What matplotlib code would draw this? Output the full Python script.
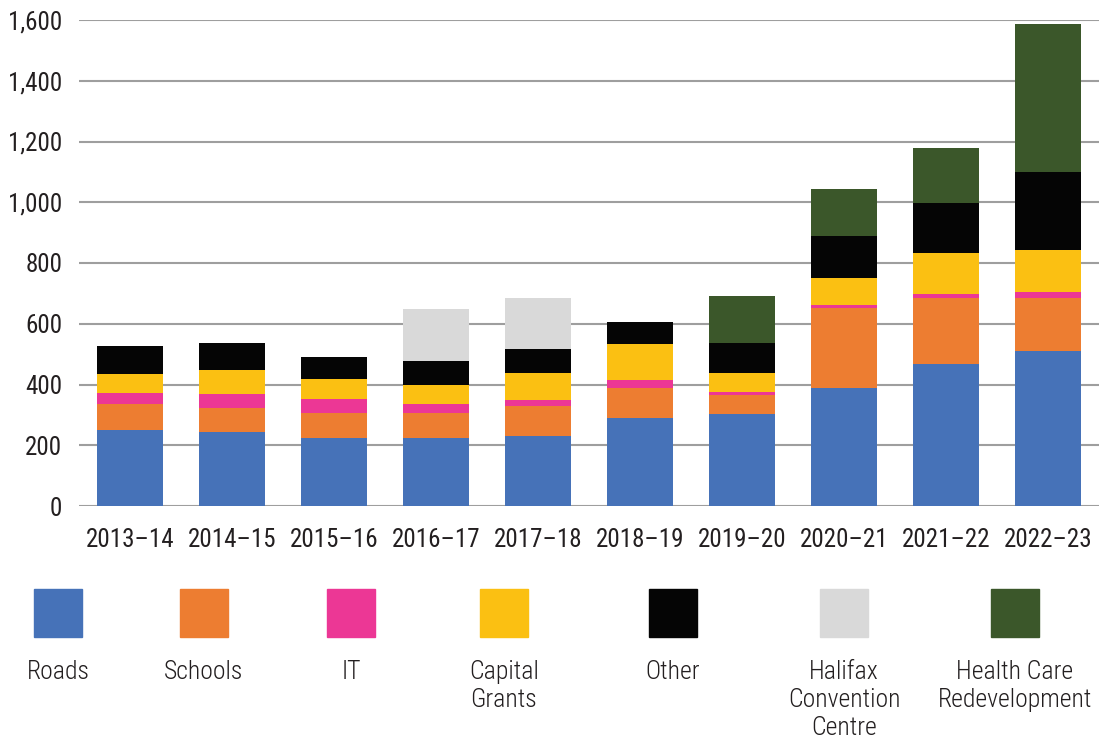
import matplotlib.pyplot as plt
from matplotlib import font_manager
from matplotlib.patches import Rectangle
import numpy as np

# Fiscal years and capital spending by category
years = ["2013\u201314", "2014\u201315", "2015\u201316", "2016\u201317", "2017\u201318",
         "2018\u201319", "2019\u201320", "2020\u201321", "2021\u201322", "2022\u201323"]
roads = [250, 243, 224, 224, 230, 289, 303, 389, 467, 510]
schools = [85, 79, 82, 82, 99, 99, 62, 262, 217, 174]
it = [37, 46, 46, 30, 20, 26, 10, 10, 13, 20]
capital_grants = [62, 79, 66, 62, 89, 119, 63, 89, 135, 138]
other = [92, 89, 72, 79, 78, 72, 98, 138, 165, 257]
halifax_cc = [0, 0, 0, 170, 168, 0, 0, 0, 0, 0]
health_care = [0, 0, 0, 0, 0, 0, 155, 155, 181, 488]

series = ["Roads", "Schools", "IT", "Capital\nGrants", "Other",
          "Halifax\nConvention\nCentre", "Health Care\nRedevelopment"]
values = [roads, schools, it, capital_grants, other, halifax_cc, health_care]
colors = ["#4672B8", "#ED7D31", "#EC3795", "#FBC012", "#050505", "#D9D9D9", "#3B572A"]

# pick a narrow font if one is around
names = {f.name for f in font_manager.fontManager.ttflist}
family = "Roboto"
for cand in ["Roboto Condensed", "Liberation Sans Narrow", "DejaVu Sans Condensed"]:
    if cand in names:
        family = cand
        break
plt.rcParams['font.family'] = [family, 'DejaVu Sans']
text_color = "#231F20"

fig = plt.figure(figsize=(11.01, 7.4), dpi=100)
ax = fig.add_axes([79 / 1101, 1 - 506 / 740, 1020 / 1101, 486 / 740])

x = np.arange(len(years))
bottom = np.zeros(len(years))
for name, vals, col in zip(series, values, colors):
    ax.bar(x, vals, width=0.65, bottom=bottom, color=col, zorder=3)
    bottom += np.array(vals)

ax.set_xlim(-0.5, 9.5)
ax.set_ylim(0, 1600)
ax.set_yticks(range(0, 1601, 200))
ax.set_yticklabels([f"{v:,}" for v in range(0, 1601, 200)])
ax.set_xticks(x)
ax.set_xticklabels(years)
ax.grid(axis='y', color="#9E9E9E", linewidth=1.5, zorder=0)
for s in ax.spines.values():
    s.set_visible(False)
ax.tick_params(length=0, labelsize=18, labelcolor=text_color)
ax.tick_params(axis='y', pad=12)
ax.tick_params(axis='x', pad=16)

# legend: big squares with labels centred underneath
centers = [58, 204, 351, 504, 673, 844, 1015]
for cx, name, col in zip(centers, series, colors):
    fig.patches.append(Rectangle(((cx - 24) / 1101, 1 - 637 / 740), 48 / 1101, 48 / 740,
                                 transform=fig.transFigure, color=col))
    fig.text(cx / 1101, 1 - 660 / 740, name, ha='center', va='top', fontsize=18.5,
             color=text_color, fontweight='light', linespacing=1.22)

plt.savefig('out.png', dpi=100)
